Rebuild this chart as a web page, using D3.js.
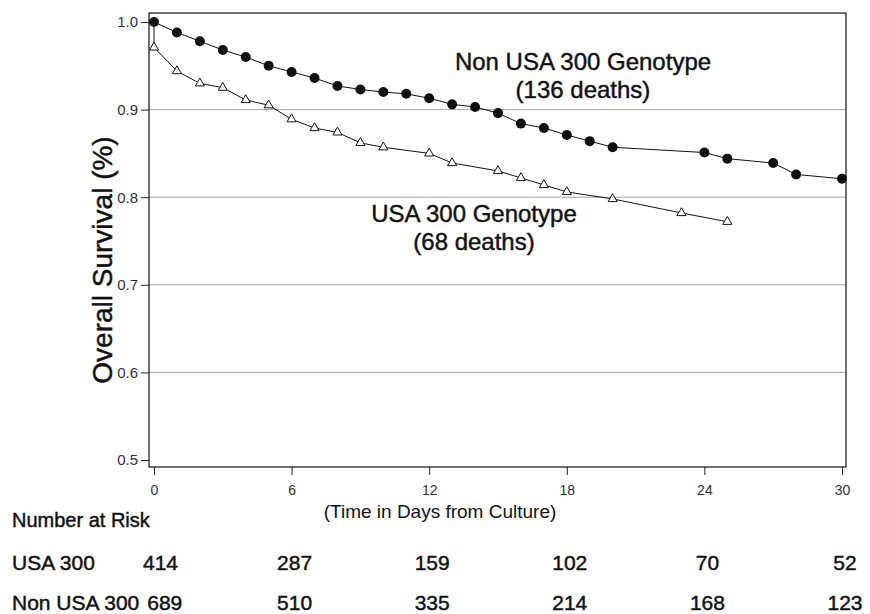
<!DOCTYPE html>
<html>
<head>
<meta charset="utf-8">
<script src="https://cdn.jsdelivr.net/npm/d3@7"></script>
<style>
  body { margin: 0; background: #fff; }
  text { font-family: "Liberation Sans", Arial, sans-serif; }
  .heavy { stroke: #111; stroke-width: 0.45px; }
</style>
</head>
<body>
<div id="km_chart"></div>
<script>
// Non USA 300 genotype (filled circles)
const nonUsaDays = [0, 1, 2, 3, 4, 5, 6, 7, 8, 9, 10, 11, 12, 13, 14, 15, 16, 17, 18, 19, 20, 24, 25, 27, 28, 30];
const nonUsaSurv = [1.0, 0.988, 0.978, 0.968, 0.960, 0.950, 0.943, 0.936, 0.927, 0.923, 0.920, 0.918, 0.913,
    0.906, 0.903, 0.896, 0.884, 0.879, 0.871, 0.864, 0.857, 0.851, 0.844, 0.839, 0.826, 0.821];

// USA 300 genotype (open triangles), first point is the start of the drop at day 0
const usaDays = [0, 0, 1, 2, 3, 4, 5, 6, 7, 8, 9, 10, 12, 13, 15, 16, 17, 18, 20, 23, 25];
const usaSurv = [1.0, 0.971, 0.944, 0.930, 0.925, 0.911, 0.905, 0.889, 0.879, 0.874, 0.862, 0.857,
    0.850, 0.839, 0.830, 0.822, 0.814, 0.806, 0.798, 0.782, 0.772];

// Ejes
const xTicks = [0, 6, 12, 18, 24, 30];
const yTicks = [0.5, 0.6, 0.7, 0.8, 0.9, 1.0];
const gridValues = [0.6, 0.7, 0.8, 0.9];

// Number at risk
const riskRows = ["USA 300", "Non USA 300"];
const riskUsa = [414, 287, 159, 102, 70, 52];
const riskNonUsa = [689, 510, 335, 214, 168, 123];

const svgWidth = 870, svgHeight = 614;
const frame = { left: 149, right: 846, top: 13, bottom: 467 };

const svg = d3.select("#km_chart")
    .append("svg")
    .attr("width", svgWidth)
    .attr("height", svgHeight);

// Escalas
const x = d3.scaleLinear().domain([0, 30]).range([154, 842]);
const y = d3.scaleLinear().domain([0.5, 1.0]).range([460, 22]);

// Grid
svg.append("g")
    .selectAll("line")
    .data(gridValues)
    .join("line")
    .attr("x1", frame.left).attr("x2", frame.right)
    .attr("y1", d => y(d)).attr("y2", d => y(d))
    .attr("stroke", "#a3a3a3")
    .attr("stroke-width", 1);

// Marco
svg.append("rect")
    .attr("x", frame.left)
    .attr("y", frame.top)
    .attr("width", frame.right - frame.left)
    .attr("height", frame.bottom - frame.top)
    .attr("fill", "none")
    .attr("stroke", "#111")
    .attr("stroke-width", 1.2);

const yAxis = svg.append("g")
    .attr("transform", `translate(${frame.left}, 0)`)
    .call(d3.axisLeft(y).tickValues(yTicks).tickFormat(d3.format(".1f")).tickSize(8).tickPadding(3));
yAxis.select(".domain").remove();
yAxis.selectAll("text").attr("font-size", 15).attr("fill", "#333").attr("font-family", null);
yAxis.selectAll("line").attr("stroke", "#222");

const xAxis = svg.append("g")
    .attr("transform", `translate(0, ${frame.bottom})`)
    .call(d3.axisBottom(x).tickValues(xTicks).tickSize(8).tickPadding(10));
xAxis.select(".domain").remove();
xAxis.selectAll("text").attr("font-size", 14).attr("fill", "#333").attr("font-family", null);
xAxis.selectAll("line").attr("stroke", "#222");

// Lineas
const usaData = usaDays.map((d, i) => ({ t: d, s: usaSurv[i], i: i }));
const nonUsaData = nonUsaDays.map((d, i) => ({ t: d, s: nonUsaSurv[i], i: i }));

const line = d3.line().x(d => x(d.t)).y(d => y(d.s));

svg.append("path")
    .datum(usaData)
    .attr("fill", "none")
    .attr("stroke", "#111")
    .attr("stroke-width", 1)
    .attr("d", line);

svg.append("path")
    .datum(nonUsaData)
    .attr("fill", "none")
    .attr("stroke", "#111")
    .attr("stroke-width", 1)
    .attr("d", line);

svg.append("g")
    .selectAll("path")
    .data(usaData.filter(d => d.i > 0))
    .join("path")
    .attr("transform", d => `translate(${x(d.t)}, ${y(d.s)})`)
    .attr("d", d3.symbol(d3.symbolTriangle).size(36))
    .attr("fill", "#fff")
    .attr("stroke", "#111")
    .attr("stroke-width", 1);

svg.append("g")
    .selectAll("circle")
    .data(nonUsaData)
    .join("circle")
    .attr("cx", d => x(d.t))
    .attr("cy", d => y(d.s))
    .attr("r", 5)
    .attr("fill", "#111");

// Etiquetas de las curvas
const labels = [
    { lines: ["Non USA 300 Genotype", "(136 deaths)"], cx: 583, by: 70 },
    { lines: ["USA 300 Genotype", "(68 deaths)"], cx: 474, by: 222 }
];
labels.forEach(l => {
    l.lines.forEach((txt, k) => {
        svg.append("text")
            .attr("class", "heavy")
            .attr("x", l.cx)
            .attr("y", l.by + k * 28)
            .attr("text-anchor", "middle")
            .attr("font-size", 24)
            .attr("fill", "#111")
            .text(txt);
    });
});

// Titulos de ejes
svg.append("text")
    .attr("class", "heavy")
    .attr("transform", "translate(112, 260) rotate(-90)")
    .attr("text-anchor", "middle")
    .attr("font-size", 28)
    .attr("fill", "#111")
    .text("Overall Survival (%)");

svg.append("text")
    .attr("x", 440)
    .attr("y", 518)
    .attr("text-anchor", "middle")
    .attr("font-size", 19)
    .attr("fill", "#111")
    .text("(Time in Days from Culture)");

// Tabla de riesgo
svg.append("text")
    .attr("class", "heavy")
    .attr("x", 12)
    .attr("y", 527)
    .attr("font-size", 20)
    .attr("fill", "#111")
    .text("Number at Risk");

const rowY = [570, 610];
[riskUsa, riskNonUsa].forEach((vals, r) => {
    const lab = svg.append("text")
        .attr("class", "heavy")
        .attr("x", 12)
        .attr("y", rowY[r])
        .attr("font-size", 21)
        .attr("fill", "#111")
        .text(riskRows[r]);
    const labEnd = 12 + lab.node().getComputedTextLength();

    vals.forEach((v, i) => {
        const t = svg.append("text")
            .attr("class", "heavy")
            .attr("y", rowY[r])
            .attr("font-size", 21)
            .attr("fill", "#111")
            .text(v);
        if (i === 0) {
            t.attr("x", Math.max(x(xTicks[0]) - 11, labEnd + 8));
        } else {
            t.attr("x", x(xTicks[i]) + 3).attr("text-anchor", "middle");
        }
    });
});
</script>
</body>
</html>
